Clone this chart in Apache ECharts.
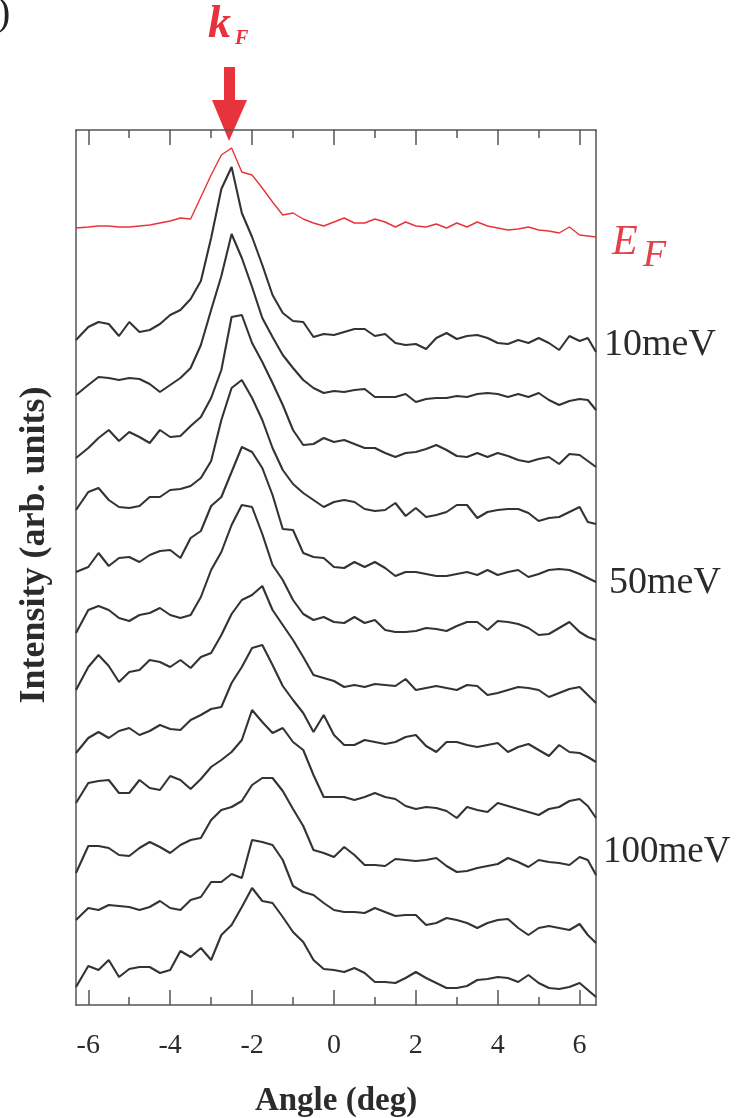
<!DOCTYPE html>
<html>
<head>
<meta charset="utf-8">
<script src="https://cdn.jsdelivr.net/npm/echarts@6/dist/echarts.min.js"></script>
<style>html,body{margin:0;padding:0;background:#fff}#c{width:747px;height:1118px}</style>
</head>
<body>
<div id="c"></div>
<script>
// Angle grid (deg)
const angles = [-6.3,-6,-5.75,-5.5,-5.25,-5,-4.75,-4.5,-4.25,-4,-3.75,-3.5,-3.25,-3,-2.75,-2.5,-2.25,-2,-1.75,-1.5,-1.25,-1,-0.75,-0.5,-0.25,0,0.25,0.5,0.75,1,1.25,1.5,1.75,2,2.25,2.5,2.75,3,3.25,3.5,3.75,4,4.25,4.5,4.75,5,5.25,5.5,5.75,6,6.2,6.4];

// Intensities (arb. units, offset curves as plotted)
const mdcEF  = [777,778,779,779,778,778,779,780,782,784,787,786,808,830,850,857,833,830,817,803,790,792,786,782,779,783,787,782,782,786,783,778,783,779,778,781,777,782,778,783,779,777,775,776,778,775,774,772,778,770,769,768];
const mdc10  = [665,678,683,681,669,683,673,675,681,690,695,706,724,767,816,838,792,768,740,710,692,684,683,668,671,670,673,676,676,669,671,662,660,661,656,667,672,666,669,670,667,662,661,665,662,667,662,655,669,664,667,653];
const mdc20  = [610,620,628,627,625,627,626,621,613,620,627,637,660,695,729,771,747,718,687,668,650,637,625,617,612,614,613,615,616,608,608,608,611,603,606,607,607,609,608,611,612,611,608,611,608,612,605,600,604,606,605,595];
const mdc30  = [547,557,567,575,564,573,568,562,575,568,569,579,588,607,635,688,690,662,643,622,600,575,560,561,567,563,565,561,557,557,552,548,552,553,556,560,555,549,548,552,548,552,549,545,543,546,548,541,551,550,544,538];
const mdc40  = [495,513,517,505,498,497,499,508,508,515,516,519,527,544,585,617,625,607,585,557,535,521,512,505,498,503,505,503,496,494,495,502,489,497,488,490,493,500,500,487,493,495,496,496,492,484,487,488,493,498,483,481];
const mdc50  = [433,438,452,439,447,448,443,450,454,455,447,467,474,499,508,533,558,553,537,510,476,475,452,448,447,438,437,443,438,443,437,429,433,433,431,429,429,431,433,430,435,430,433,435,428,431,435,436,435,431,427,423];
const mdc60  = [372,395,399,395,387,384,390,392,397,390,387,390,408,435,453,480,500,498,471,440,425,405,391,385,388,383,382,388,382,385,375,373,373,374,377,376,374,379,383,383,375,384,383,381,377,370,371,377,383,373,368,365];
const mdc70  = [315,338,350,339,323,333,335,345,343,338,345,337,348,352,370,391,405,410,419,395,380,365,348,330,327,324,318,320,318,321,320,319,326,315,317,319,317,315,320,319,310,312,315,318,317,315,308,312,316,318,310,302];
const mdc80  = [252,267,273,267,274,277,270,274,280,276,275,285,290,296,298,322,338,357,360,340,319,305,292,273,290,270,260,260,265,263,261,263,268,270,259,253,263,263,260,258,260,262,253,258,261,255,249,260,253,252,248,243];
const mdc90  = [202,222,224,225,212,212,225,217,215,229,225,216,226,238,245,253,265,295,283,272,277,263,255,230,208,208,208,205,208,212,208,206,199,196,198,197,194,187,198,195,193,202,199,196,193,190,196,198,204,206,199,187];
const mdc100 = [132,159,159,157,150,149,157,163,158,152,160,165,167,185,195,198,204,220,227,227,214,196,179,155,152,148,158,150,140,140,139,146,145,144,145,147,139,133,134,137,139,141,147,143,138,145,143,142,140,148,145,130];
const mdc110 = [85,97,95,100,99,98,95,98,104,97,95,105,108,123,123,131,127,165,163,160,145,119,113,110,102,95,93,93,92,97,93,89,90,90,80,82,87,85,82,77,82,85,86,77,70,77,79,77,75,81,70,62];
const mdc120 = [18,39,35,45,28,36,38,38,32,35,54,48,57,45,70,80,98,117,104,102,88,73,63,45,36,35,33,37,32,23,23,22,27,33,27,22,17,17,19,25,26,28,27,23,30,22,17,16,18,22,15,8];

const blackCurves = [mdc10, mdc20, mdc30, mdc40, mdc50, mdc60, mdc70, mdc80, mdc90, mdc100, mdc110, mdc120];
const blackNames = ['10meV','20meV','30meV','40meV','50meV','60meV','70meV','80meV','90meV','100meV','110meV','120meV'];

const majorTicks = [-6,-4,-2,0,2,4,6];
const minorTicks = [-5,-3,-1,1,3,5];
const energyLabels = ['10meV','50meV','100meV'];
const xTitle = 'Angle (deg)';
const yTitle = 'Intensity (arb. units)';

const serif = '"Liberation Serif","DejaVu Serif",serif';
const frameColor = '#555';
const red = '#e8333d';
const ink = '#2b2b2b';

const chart = echarts.init(document.getElementById('c'), null, {renderer: 'canvas'});

const lineStyleFrame = {color: frameColor, width: 1.5};

function xAxisDef(position, ticks, len, opts) {
  return Object.assign({
    type: 'value', position: position, min: -6.3, max: 6.4,
    axisLine: {show: false, onZero: false},
    axisTick: {show: true, inside: true, length: len, customValues: ticks, lineStyle: {color: frameColor, width: 1.5}},
    axisLabel: {show: false},
    splitLine: {show: false}
  }, opts || {});
}
function yAxisDef(position) {
  return {type: 'value', min: 0, max: 875, position: position,
    axisLine: {show: true, onZero: false, lineStyle: lineStyleFrame},
    axisTick: {show: false}, axisLabel: {show: false}, splitLine: {show: false}};
}

const series = [];
series.push({
  name: 'E_F', type: 'line', xAxisIndex: 0, yAxisIndex: 0,
  data: angles.map((a, i) => [a, mdcEF[i]]),
  symbol: 'none', smooth: false, silent: true,
  lineStyle: {color: red, width: 1.4}, z: 3
});
blackCurves.forEach((vals, k) => {
  series.push({
    name: blackNames[k], type: 'line', xAxisIndex: 0, yAxisIndex: 0,
    data: angles.map((a, i) => [a, vals[i]]),
    symbol: 'none', smooth: false, silent: true,
    lineStyle: {color: '#333', width: 2.1}, z: 2
  });
});

const labelPos = [[604, 345], [609, 583], [603, 852]];

const option = {
  animation: false,
  backgroundColor: '#fff',
  grid: {left: 76, right: 151, top: 130, bottom: 113, containLabel: false, outerBoundsMode: 'none'},
  xAxis: [
    xAxisDef('bottom', majorTicks, 15, {
      axisLine: {show: true, onZero: false, lineStyle: lineStyleFrame},
      axisLabel: {show: true, customValues: majorTicks, margin: 27, fontFamily: serif, fontSize: 28, color: ink},
      name: xTitle, nameLocation: 'middle', nameGap: 80,
      nameTextStyle: {fontFamily: serif, fontWeight: 'bold', fontSize: 33, color: ink}
    }),
    xAxisDef('bottom', minorTicks, 8),
    xAxisDef('top', majorTicks, 15, {axisLine: {show: true, onZero: false, lineStyle: lineStyleFrame}}),
    xAxisDef('top', minorTicks, 8)
  ],
  yAxis: [yAxisDef('left'), yAxisDef('right')],
  series: series,
  graphic: [
    {type: 'text', x: -3, y: -6, style: {text: ')', font: '40px ' + serif, fill: '#222'}},
    {type: 'text', x: 208, y: 2, style: {text: 'k', font: 'italic bold 46px ' + serif, fill: red}},
    {type: 'text', x: 235, y: 29, style: {text: 'F', font: 'italic bold 20px ' + serif, fill: red}},
    {type: 'polygon', shape: {points: [[224, 67], [235, 67], [235, 100], [247, 100], [229, 141], [212, 100], [224, 100]]}, style: {fill: red}},
    {type: 'text', x: 612, y: 222, style: {text: 'E', font: 'italic 42px ' + serif, fill: '#e4404b'}},
    {type: 'text', x: 643, y: 237, style: {text: 'F', font: 'italic 38px ' + serif, fill: '#e4404b'}},
    {type: 'text', x: labelPos[0][0], y: labelPos[0][1], style: {text: energyLabels[0], font: '38px ' + serif, fill: ink, textVerticalAlign: 'middle'}},
    {type: 'text', x: labelPos[1][0], y: labelPos[1][1], style: {text: energyLabels[1], font: '38px ' + serif, fill: ink, textVerticalAlign: 'middle'}},
    {type: 'text', x: labelPos[2][0], y: labelPos[2][1], style: {text: energyLabels[2], font: '37px ' + serif, fill: ink, textVerticalAlign: 'middle'}},
    {type: 'text', x: 35, y: 545, rotation: Math.PI / 2, style: {text: yTitle, font: 'bold 36px ' + serif, fill: ink, textAlign: 'center', textVerticalAlign: 'middle'}}
  ]
};
chart.setOption(option);
</script>
</body>
</html>
